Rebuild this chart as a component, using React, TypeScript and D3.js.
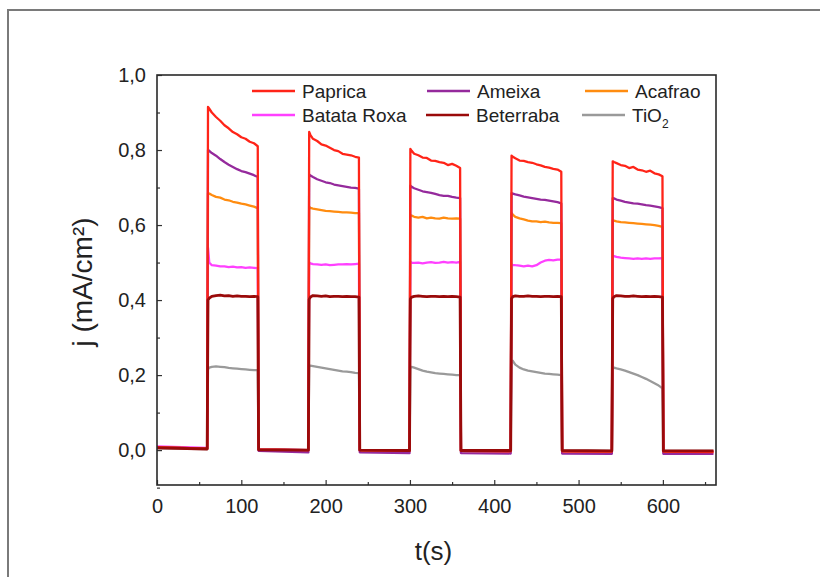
import React, { useEffect, useRef } from 'react';
import * as d3 from 'd3';

// sample times (s): dark / light-on pulses of 60 s
const times = [
  0, 59.5,
  60.5, 62, 65, 70, 75, 80, 85, 90, 95, 100, 105, 110, 115, 119.5,
  120.5, 179.5,
  180.5, 182, 185, 190, 195, 200, 205, 210, 215, 220, 225, 230, 235, 239.5,
  240.5, 299.5,
  300.5, 302, 305, 310, 315, 320, 325, 330, 335, 340, 345, 350, 355, 359.5,
  360.5, 419.5,
  420.5, 422, 425, 430, 435, 440, 445, 450, 455, 460, 465, 470, 475, 479.5,
  480.5, 539.5,
  540.5, 542, 545, 550, 555, 560, 565, 570, 575, 580, 585, 590, 595, 599.5,
  600.5, 660,
];

const paprica = [
  0.008, 0.004,
  0.915, 0.91, 0.9, 0.888, 0.878, 0.866, 0.858, 0.848, 0.842, 0.834, 0.83, 0.822, 0.818, 0.81,
  0.002, 0.0,
  0.848, 0.84, 0.83, 0.824, 0.815, 0.812, 0.806, 0.8, 0.797, 0.79, 0.788, 0.786, 0.782, 0.78,
  0.0, -0.002,
  0.803, 0.798, 0.79, 0.786, 0.78, 0.779, 0.772, 0.771, 0.768, 0.766, 0.76, 0.763, 0.758, 0.752,
  -0.002, -0.003,
  0.785, 0.782, 0.778, 0.772, 0.771, 0.768, 0.766, 0.762, 0.759, 0.755, 0.753, 0.75, 0.748, 0.742,
  -0.003, -0.004,
  0.77, 0.768, 0.765, 0.76, 0.758, 0.752, 0.755, 0.748, 0.746, 0.742, 0.745, 0.738, 0.735, 0.73,
  -0.004, -0.005,
];

const ameixa = [
  0.008, 0.004,
  0.8, 0.798, 0.792, 0.785, 0.776, 0.768, 0.761, 0.755, 0.749, 0.744, 0.741, 0.737, 0.733, 0.728,
  -0.002, -0.006,
  0.735, 0.732, 0.728, 0.722, 0.718, 0.714, 0.712, 0.708, 0.706, 0.704, 0.702, 0.7, 0.699, 0.697,
  -0.006, -0.008,
  0.705, 0.702, 0.698, 0.694, 0.69, 0.688, 0.686, 0.683, 0.68, 0.678, 0.678, 0.675, 0.673, 0.672,
  -0.008, -0.009,
  0.685, 0.684, 0.682, 0.679, 0.676, 0.674, 0.672, 0.67, 0.668, 0.667, 0.665, 0.663, 0.661, 0.658,
  -0.009, -0.01,
  0.672, 0.671, 0.668, 0.665, 0.662, 0.66, 0.658, 0.657, 0.655, 0.653, 0.652, 0.65, 0.648, 0.645,
  -0.01, -0.01,
];

const acafrao = [
  0.008, 0.004,
  0.685, 0.684, 0.68, 0.675, 0.673, 0.668, 0.666, 0.662, 0.66, 0.657, 0.655, 0.652, 0.649, 0.645,
  0.001, -0.001,
  0.648, 0.646, 0.644, 0.642, 0.64, 0.638, 0.637, 0.636, 0.635, 0.634, 0.634, 0.633, 0.632, 0.632,
  -0.002, -0.003,
  0.627, 0.625, 0.622, 0.62, 0.622, 0.618, 0.62, 0.618, 0.617, 0.62, 0.618, 0.617, 0.618, 0.617,
  -0.003, -0.004,
  0.632, 0.628, 0.622, 0.618, 0.615, 0.612, 0.61, 0.61, 0.608, 0.609, 0.607, 0.606, 0.606, 0.605,
  -0.004, -0.005,
  0.613, 0.612, 0.61, 0.608, 0.607, 0.606, 0.605, 0.604, 0.603, 0.602, 0.601, 0.6, 0.598, 0.595,
  -0.005, -0.005,
];

const batataRoxa = [
  0.01, 0.006,
  0.54, 0.5, 0.493, 0.492, 0.49, 0.49, 0.488, 0.489, 0.487, 0.488, 0.486, 0.487, 0.486, 0.485,
  0.002, 0.0,
  0.5, 0.498, 0.496, 0.495, 0.494, 0.495, 0.493, 0.494, 0.495, 0.495, 0.496, 0.495, 0.496, 0.497,
  -0.001, -0.002,
  0.502, 0.5, 0.499, 0.5, 0.498, 0.5, 0.501, 0.499, 0.5, 0.502, 0.5, 0.501, 0.5, 0.502,
  -0.002, -0.003,
  0.495, 0.494, 0.493, 0.492, 0.49, 0.492, 0.49, 0.493, 0.5, 0.505, 0.507, 0.506, 0.508, 0.508,
  -0.003, -0.004,
  0.518, 0.517, 0.515, 0.513, 0.512, 0.511, 0.51, 0.511, 0.51, 0.511, 0.51, 0.511, 0.511, 0.512,
  -0.004, -0.004,
];

const beterraba = [
  0.006, 0.003,
  0.4, 0.405, 0.41, 0.412, 0.413, 0.411, 0.412, 0.41, 0.411, 0.41, 0.41, 0.409, 0.41, 0.409,
  0.001, 0.0,
  0.402, 0.408, 0.412, 0.411, 0.41, 0.411, 0.409, 0.41, 0.41, 0.409, 0.41, 0.409, 0.409, 0.408,
  0.0, -0.001,
  0.403, 0.408, 0.41, 0.411, 0.41, 0.409, 0.41, 0.41, 0.409, 0.41, 0.409, 0.41, 0.409, 0.408,
  -0.001, -0.001,
  0.404, 0.409, 0.411, 0.41, 0.41, 0.411, 0.41, 0.41, 0.409, 0.41, 0.41, 0.409, 0.41, 0.409,
  -0.001, -0.002,
  0.404, 0.409, 0.412, 0.411, 0.41, 0.41, 0.411, 0.41, 0.409, 0.41, 0.409, 0.41, 0.409, 0.408,
  -0.002, -0.002,
];

const tio2 = [
  0.005, 0.003,
  0.215, 0.22, 0.222, 0.223, 0.222, 0.221, 0.219, 0.218, 0.217, 0.216, 0.215, 0.214, 0.213, 0.213,
  0.001, 0.0,
  0.222, 0.225, 0.224, 0.222, 0.22, 0.218, 0.216, 0.214, 0.212, 0.21, 0.209, 0.208, 0.206, 0.205,
  0.0, -0.001,
  0.218, 0.222, 0.22, 0.216, 0.212, 0.209, 0.207, 0.205, 0.204, 0.203, 0.202, 0.201, 0.2, 0.2,
  -0.001, -0.001,
  0.235, 0.238, 0.228, 0.22, 0.215, 0.212, 0.21, 0.208, 0.206, 0.204, 0.203, 0.202, 0.201, 0.2,
  -0.001, -0.002,
  0.215, 0.22, 0.218, 0.215, 0.212, 0.208, 0.204, 0.2, 0.195, 0.19, 0.184, 0.178, 0.172, 0.165,
  -0.002, -0.002,
];

const seriesNames = ['Paprica', 'Ameixa', 'Acafrao', 'Batata Roxa', 'Beterraba', 'TiO2'];
const seriesValues = [paprica, ameixa, acafrao, batataRoxa, beterraba, tio2];
const seriesColors = ['#ff2418', '#952a9c', '#ff8c10', '#ff40ff', '#9a0a0a', '#9a9a9a'];

const xTicks = [0, 100, 200, 300, 400, 500, 600];
const xMinorTicks = [50, 150, 250, 350, 450, 550, 650];
const yTicks = [0, 0.2, 0.4, 0.6, 0.8, 1.0];
const yMinorTicks = [-0.1, 0.1, 0.3, 0.5, 0.7, 0.9];

const App = () => {
  const chartRef = useRef<SVGSVGElement>(null);

  useEffect(() => {
    drawChart();
  }, []);

  const drawChart = () => {
    const svg = d3.select(chartRef.current);
    svg.selectAll('*').remove();

    const left = 157, right = 716, top = 75, bottom = 485;
    const font = 'Liberation Sans, Arial, sans-serif';

    // outer frame
    svg.append('rect')
      .attr('x', 8).attr('y', 10)
      .attr('width', 830).attr('height', 600)
      .attr('fill', 'none')
      .attr('stroke', '#7a7a7a')
      .attr('stroke-width', 2);

    const x = d3.scaleLinear().domain([0, 663]).range([left, right]);
    const y = d3.scaleLinear().domain([-0.093, 1.0]).range([bottom, top]);

    const line = d3.line<number>()
      .x((d, i) => x(times[i]))
      .y(d => y(d));

    // draw order: lighter first, Beterraba on top
    const order = [5, 3, 2, 1, 0, 4];
    order.forEach(k => {
      svg.append('path')
        .datum(seriesValues[k])
        .attr('fill', 'none')
        .attr('stroke', seriesColors[k])
        .attr('stroke-width', k === 4 ? 2.8 : 2.3)
        .attr('stroke-linejoin', 'round')
        .attr('d', line);
    });

    // axes (ticks inside)
    const fmt = (d: number) => d3.format('.1f')(d).replace('.', ',');

    const xAxis = svg.append('g')
      .attr('transform', `translate(0,${bottom})`)
      .call(d3.axisBottom(x).tickValues(xTicks).tickSizeInner(-5).tickSizeOuter(0).tickPadding(14));
    svg.append('g')
      .attr('transform', `translate(0,${bottom})`)
      .call(d3.axisBottom(x).tickValues(xMinorTicks).tickSizeInner(-3).tickSizeOuter(0).tickFormat(() => ''));

    const yAxis = svg.append('g')
      .attr('transform', `translate(${left},0)`)
      .call(d3.axisLeft(y).tickValues(yTicks).tickSizeInner(-5).tickSizeOuter(0).tickPadding(11).tickFormat(fmt));
    svg.append('g')
      .attr('transform', `translate(${left},0)`)
      .call(d3.axisLeft(y).tickValues(yMinorTicks).tickSizeInner(-3).tickSizeOuter(0).tickFormat(() => ''));

    svg.selectAll('.domain').remove();
    svg.selectAll('.tick line').attr('stroke', '#333').attr('stroke-width', 1.2);
    [xAxis, yAxis].forEach(g => g.selectAll('text')
      .attr('font-family', font)
      .attr('font-size', 20)
      .attr('fill', '#222'));
    xAxis.selectAll('text').attr('dy', '0.71em');

    // plot box
    svg.append('rect')
      .attr('x', left).attr('y', top)
      .attr('width', right - left).attr('height', bottom - top)
      .attr('fill', 'none')
      .attr('stroke', '#2a2a2a')
      .attr('stroke-width', 1.6);

    // axis titles
    svg.append('text')
      .attr('x', (left + right) / 2 - 3).attr('y', 560)
      .attr('text-anchor', 'middle')
      .attr('font-family', font).attr('font-size', 26).attr('fill', '#222')
      .text('t(s)');

    svg.append('text')
      .attr('transform', 'translate(92,282) rotate(-90)')
      .attr('text-anchor', 'middle')
      .attr('font-family', font).attr('font-size', 28).attr('fill', '#222')
      .text('j (mA/cm²)');

    // legend, 3 columns x 2 rows
    const legX = [252, 427, 585];
    const legY = [91, 115];
    seriesNames.forEach((name, i) => {
      const col = i % 3, row = Math.floor(i / 3);
      const lx = legX[col] + (i === 4 ? -1 : i === 5 ? -3 : 0);
      const ly = legY[row];
      svg.append('line')
        .attr('x1', lx).attr('x2', lx + 43)
        .attr('y1', ly).attr('y2', ly)
        .attr('stroke', seriesColors[i])
        .attr('stroke-width', 2.5);
      const t = svg.append('text')
        .attr('x', lx + 50).attr('y', ly + 7)
        .attr('font-family', font).attr('font-size', 19).attr('fill', '#222');
      if (name === 'TiO2') {
        t.append('tspan').text('TiO');
        t.append('tspan').attr('dy', 6).attr('font-size', 12).text('2');
      } else {
        t.text(name);
      }
    });
  };

  return (
    <svg ref={chartRef} width={820} height={577}
      style={{ position: 'absolute', left: 0, top: 0, background: '#fff' }} />
  );
};

export default App;
